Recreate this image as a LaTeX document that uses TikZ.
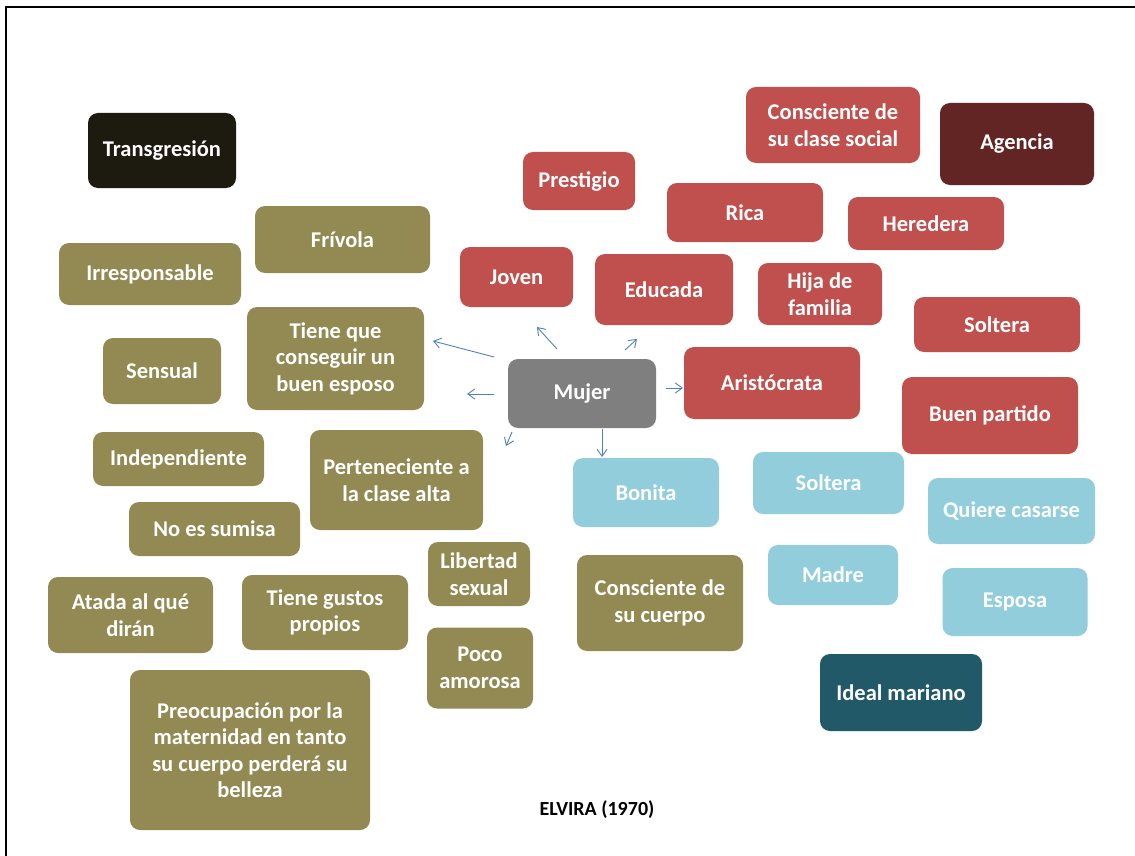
\documentclass[tikz,border=0pt]{standalone}
\usepackage{fontspec}
\setmainfont{Carlito}
\usetikzlibrary{arrows.meta}

\definecolor{olive}{HTML}{938953}
\definecolor{brick}{HTML}{C0504D}
\definecolor{wine}{HTML}{632523}
\definecolor{ink}{HTML}{1D1B10}
\definecolor{sky}{HTML}{92CDDC}
\definecolor{teal}{HTML}{215968}
\definecolor{slate}{HTML}{7F7F7F}
\definecolor{arrowblue}{HTML}{4F81BD}

\tikzset{
  card/.style={rounded corners=10pt, inner sep=0pt, align=center, text=white,
    font=\fontsize{22.5}{26.5}\selectfont\bfseries},
  sz/.style 2 args={minimum width=#1pt, minimum height=#2pt},
  ptr/.style={draw=arrowblue, line width=0.9pt, -{Straight Barb[length=7pt,width=10pt]}}
}

\begin{document}
\begin{tikzpicture}[x=1pt,y=-1pt]
\useasboundingbox (0,0) rectangle (1135,856);
\fill[white] (0,0) rectangle (1135,856);
% frame on the left and top edges
\draw[line width=2pt] (6,856) -- (6,7) -- (1135,7);

% central concept
\node[card, fill=slate, sz={148}{69}] (mujer) at (582,393.5) {Mujer};

% category headers
\node[card, fill=ink,  sz={148}{75}] (trans)  at (162,150.5) {Transgresión};
\node[card, fill=wine, sz={154}{82}] (agencia) at (1017,144) {Agencia};
\node[card, fill=teal, sz={162}{77}] (ideal)  at (901,692.5) {Ideal mariano};

% agency traits
\node[card, fill=brick, sz={174}{76}] (conclase)  at (833,125)   {Consciente de\\su clase social};
\node[card, fill=brick, sz={112}{58}] (prestigio) at (579,181)   {Prestigio};
\node[card, fill=brick, sz={156}{59}] (rica)      at (745,212.5) {Rica};
\node[card, fill=brick, sz={156}{53}] (heredera)  at (926,223.5) {Heredera};
\node[card, fill=brick, sz={113}{60}] (joven)     at (516.5,277) {Joven};
\node[card, fill=brick, sz={138}{71}] (educada)   at (664,289.5) {Educada};
\node[card, fill=brick, sz={124}{62}] (hija)      at (820,294)   {Hija de\\familia};
\node[card, fill=brick, sz={166}{55}] (solteraR)  at (997,324.5) {Soltera};
\node[card, fill=brick, sz={176}{72}] (aristo)    at (772,383)   {Aristócrata};
\node[card, fill=brick, sz={176}{77}] (buen)      at (990,415.5) {Buen partido};

% transgression traits
\node[card, fill=olive, sz={175}{67}]  (frivola)   at (342.5,239.5) {Frívola};
\node[card, fill=olive, sz={182}{62}]  (irresp)    at (150,274)     {Irresponsable};
\node[card, fill=olive, sz={177}{103}] (tiene)     at (335.5,358.5) {Tiene que\\conseguir un\\buen esposo};
\node[card, fill=olive, sz={118}{66}]  (sensual)   at (162,371)     {Sensual};
\node[card, fill=olive, sz={171}{54}]  (indep)     at (178.5,459)   {Independiente};
\node[card, fill=olive, sz={173}{100}] (pertenece) at (396.5,480)   {Perteneciente a\\la clase alta};
\node[card, fill=olive, sz={171}{54}]  (sumisa)    at (214.5,529)   {No es sumisa};
\node[card, fill=olive, sz={165}{76}]  (atada)     at (130.5,615)   {Atada al qué\\dirán};
\node[card, fill=olive, sz={166}{75}]  (gustos)    at (325,612.5)   {Tiene gustos\\propios};
\node[card, fill=olive, sz={102}{64}]  (libertad)  at (479,574)     {Libertad\\sexual};
\node[card, fill=olive, sz={106}{81}]  (poco)      at (480,668)     {Poco\\amorosa};
\node[card, fill=olive, sz={166}{96}]  (cuerpo)    at (660,603)     {Consciente de\\su cuerpo};
\node[card, fill=olive, sz={240}{160}] (preocup)   at (250,750)
  {Preocupación por la\\maternidad en tanto\\su cuerpo perderá su\\belleza};

% marian ideal traits
\node[card, fill=sky, sz={146}{69}] (bonita)   at (646,492.5)  {Bonita};
\node[card, fill=sky, sz={151}{62}] (solteraB) at (828.5,483)  {Soltera};
\node[card, fill=sky, sz={167}{66}] (quiere)   at (1011.5,511) {Quiere casarse};
\node[card, fill=sky, sz={130}{60}] (madre)    at (833,575)    {Madre};
\node[card, fill=sky, sz={145}{68}] (esposa)   at (1015,602)   {Esposa};

% source
\node[font=\fontsize{20}{24}\selectfont\bfseries] (elvira) at (597,810) {ELVIRA (1970)};

% arrow ends around the central concept
\coordinate (s1) at (494,357); \coordinate (e1) at (433,341);
\coordinate (s2) at (557,349); \coordinate (e2) at (537,327);
\coordinate (s3) at (625,350); \coordinate (e3) at (637,339);
\coordinate (s4) at (494,394); \coordinate (e4) at (467,394);
\coordinate (s5) at (666,388); \coordinate (e5) at (683,388);
\coordinate (s6) at (512,432); \coordinate (e6) at (506,446);
\coordinate (s7) at (602,429); \coordinate (e7) at (602,457);

\foreach \i in {1,...,7} \draw[ptr] (s\i) -- (e\i);
\end{tikzpicture}
\end{document}
